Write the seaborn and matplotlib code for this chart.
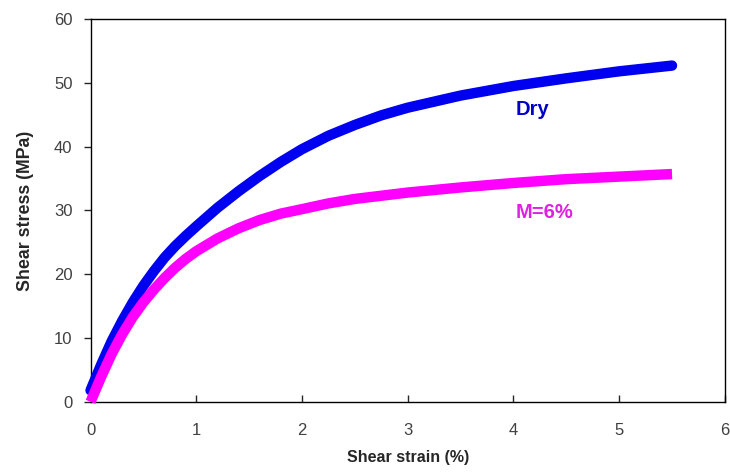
import matplotlib
matplotlib.use("Agg")
import matplotlib.pyplot as plt
import seaborn as sns
import pandas as pd

# Valeurs (deformation en %, contrainte en MPa)
strain = [0.0, 0.1, 0.2, 0.3, 0.4, 0.5, 0.6, 0.7, 0.8, 0.9, 1.0,
          1.2, 1.4, 1.6, 1.8, 2.0, 2.25, 2.5, 2.75, 3.0, 3.5, 4.0, 4.5, 5.0, 5.5]
dry = [1.8, 5.8, 9.5, 12.7, 15.6, 18.2, 20.5, 22.6, 24.4, 26.0, 27.5,
       30.4, 33.0, 35.4, 37.6, 39.6, 41.7, 43.4, 44.9, 46.1, 48.0, 49.5, 50.7, 51.8, 52.7]
wet = [0.0, 3.9, 7.5, 10.6, 13.3, 15.6, 17.6, 19.4, 21.0, 22.4, 23.6,
       25.6, 27.2, 28.5, 29.5, 30.2, 31.1, 31.8, 32.3, 32.8, 33.6, 34.3, 34.9, 35.3, 35.7]

x_ticks = [0, 1, 2, 3, 4, 5, 6]
y_ticks = [0, 10, 20, 30, 40, 50, 60]

sns.set_style("white")
plt.rcParams['font.family'] = ['Liberation Sans', 'DejaVu Sans']

df_dry = pd.DataFrame({'strain': strain, 'stress': dry})
df_wet = pd.DataFrame({'strain': strain, 'stress': wet})

fig = plt.figure(figsize=(7.3, 4.75), dpi=100)
ax = fig.add_axes([0.124, 0.154, 0.869, 0.806])

sns.lineplot(data=df_dry, x='strain', y='stress', ax=ax, color='#0000f0',
             linewidth=7.5, solid_capstyle='round', solid_joinstyle='round',
             clip_on=False, zorder=3)
sns.lineplot(data=df_wet, x='strain', y='stress', ax=ax, color='#ff00ff',
             linewidth=7.5, solid_capstyle='butt', solid_joinstyle='round',
             clip_on=False, zorder=4)

ax.set_xlim(0, 6)
ax.set_ylim(0, 60)
ax.set_xticks(x_ticks)
ax.set_yticks(y_ticks)

for s in ax.spines.values():
    s.set_color('black')
    s.set_linewidth(1.0)

ax.tick_params(axis='x', direction='in', length=5, width=1, pad=15,
               labelsize=12, labelcolor='#404040', bottom=True)
ax.tick_params(axis='y', direction='out', length=5, width=1, pad=8,
               labelsize=12, labelcolor='#404040', left=True)

ax.set_xlabel('Shear strain (%)', fontsize=11.5, fontweight='bold', labelpad=9)
ax.set_ylabel('Shear stress (MPa)', fontsize=12.8, fontweight='bold', labelpad=14)

ax.text(4.18, 45.0, 'Dry', color='#0000c8', fontsize=14.5, fontweight='bold',
        ha='center', va='baseline')
ax.text(4.29, 28.8, 'M=6%', color='#e020e0', fontsize=14.5, fontweight='bold',
        ha='center', va='baseline')

fig.savefig('out.png', dpi=100)
